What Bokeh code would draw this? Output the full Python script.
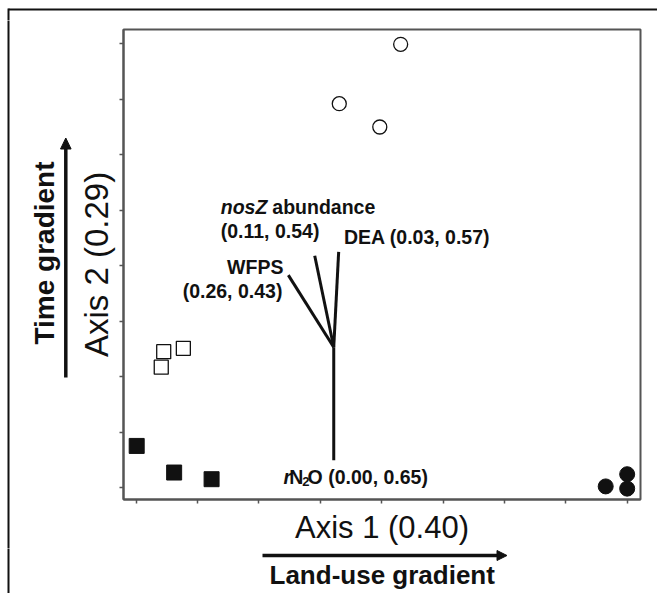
import math
from bokeh.plotting import figure
from bokeh.layouts import column, row
from bokeh.models import (Range1d, FixedTicker, Label, ColumnDataSource,
                          CustomJSTickFormatter)
from bokeh.core.properties import value
from bokeh.embed import file_html
from bokeh.resources import INLINE

# ---------------- data (ordination scores) ----------------
open_circle_x = [4.31, 3.31, 3.97]
open_circle_y = [7.99, 6.92, 6.50]

filled_circle_x = [7.65, 8.00, 8.00]
filled_circle_y = [0.02, 0.24, -0.02]

open_square_x = [0.45, 0.77, 0.41]
open_square_y = [2.45, 2.51, 2.17]

filled_square_x = [0.01, 0.62, 1.23]
filled_square_y = [0.75, 0.27, 0.15]

vector_names = ["DEA", "nosZ abundance", "WFPS", "rN2O"]
vector_origin = (3.22, 2.53)
vector_end_x = [3.30, 2.91, 2.48, 3.22]
vector_end_y = [4.25, 4.18, 3.83, 0.49]

axis1_label = "Axis 1 (0.40)"
axis2_label = "Axis 2 (0.29)"
x_gradient = "Land-use gradient"
y_gradient = "Time gradient"
tick_values = [0, 1, 2, 3, 4, 5, 6, 7, 8]

# ---------------- layout ----------------
W, H = 657, 593
FONT = "Liberation Sans"
INK = "#111111"
AXC = "#555555"

# page regions: top strip, left strip, main plot, bottom strip
TOP_H, LEFT_W, BOT_H = 20, 72, 45
MID_H = H - TOP_H - BOT_H          # 528
MAIN_W = W - LEFT_W                # 585
# main frame edges in page pixels
FL, FR, FT, FB = 123, 640, 29, 499

p = figure(width=MAIN_W, height=MID_H,
           x_range=Range1d(-0.205, 8.217), y_range=Range1d(-0.216, 8.258),
           output_backend="svg", toolbar_location=None, frame_align=False,
           min_border_left=FL - LEFT_W, min_border_right=W - FR,
           min_border_top=FT - TOP_H, min_border_bottom=TOP_H + MID_H - FB)
p.grid.visible = False
p.background_fill_color = "white"
p.border_fill_color = "white"
p.outline_line_color = AXC
p.outline_line_width = 2

for ax in (p.xaxis[0], p.yaxis[0]):
    ax.ticker = FixedTicker(ticks=tick_values)
    ax.formatter = CustomJSTickFormatter(code="return ''")
    ax.axis_line_color = AXC
    ax.axis_line_width = 2
    ax.major_tick_line_color = AXC
    ax.major_tick_line_width = 1.5
    ax.major_tick_out = 4
    ax.major_tick_in = 0
    ax.minor_tick_line_color = None
    ax.major_label_standoff = 0
    ax.axis_label_text_font = FONT
    ax.axis_label_text_font_style = "normal"
    ax.axis_label_text_color = INK

p.xaxis.axis_label = axis1_label
p.yaxis.axis_label = axis2_label
p.xaxis.axis_label_text_font_size = "31px"
p.yaxis.axis_label_text_font_size = "33px"
p.xaxis.axis_label_standoff = 6
p.yaxis.axis_label_standoff = 5

# vectors
vsrc = ColumnDataSource(dict(x0=[vector_origin[0]] * len(vector_names),
                             y0=[vector_origin[1]] * len(vector_names),
                             x1=vector_end_x, y1=vector_end_y, name=vector_names))
p.segment("x0", "y0", "x1", "y1", source=vsrc, line_width=3, line_color=INK)

# points
p.scatter(open_circle_x, open_circle_y, marker="circle", size=14,
          fill_color="white", line_color=INK, line_width=1.3)
p.scatter(filled_circle_x, filled_circle_y, marker="circle", size=15,
          fill_color=INK, line_color=INK)
p.scatter(open_square_x, open_square_y, marker="square", size=14,
          fill_color="white", line_color=INK, line_width=1.3)
p.scatter(filled_square_x, filled_square_y, marker="square", size=15,
          fill_color=INK, line_color=INK)

# vector labels (data units)
LS = "19.5px"
def lab(x, y, t, style="bold", align="left", size=LS):
    p.add_layout(Label(x=x, y=y, text=t, text_font=FONT, text_font_style=style,
                       text_font_size=size, text_align=align, text_baseline="alphabetic",
                       text_color=INK))

lab(1.379, 5.061, "nosZ", style="bold italic")
lab(2.220, 5.061, "abundance")
lab(1.379, 4.629, "(0.11, 0.54)")
lab(3.386, 4.516, "DEA (0.03, 0.57)")
lab(2.400, 3.969, "WFPS", align="right")
lab(2.383, 3.550, "(0.26, 0.43)", align="right")
lab(2.400, 0.185, "r", style="bold italic")
lab(2.495, 0.185, "N")
lab(2.707, 0.115, "2", size="13px")
lab(2.794, 0.185, "O (0.00, 0.65)")


# ---------------- decoration strips (1 data unit = 1 pixel) ----------------
def strip(w, h, ox, oy):
    s = figure(width=w, height=h, x_range=Range1d(0, w), y_range=Range1d(0, h),
               x_axis_type=None, y_axis_type=None, frame_align=False,
               output_backend="svg", toolbar_location=None,
               min_border_left=0, min_border_right=0, min_border_top=0, min_border_bottom=0)
    s.outline_line_color = None
    s.background_fill_color = "white"
    s.border_fill_color = "white"
    # page-pixel offset of this strip
    s.tags = [ox, oy]
    return s

def X(s, cx):
    return cx - s.tags[0]

def Y(s, cy):
    return s.height - (cy - s.tags[1])

def seg(s, x0, y0, x1, y1, w):
    s.segment(X(s, x0), Y(s, y0), X(s, x1), Y(s, y1), line_width=w, line_color=INK)

def tri(s, pts):
    s.patch([X(s, a) for a, b in pts], [Y(s, b) for a, b in pts],
            fill_color=INK, line_color=INK, line_width=1)

top = strip(W, TOP_H, 0, 0)
left = strip(LEFT_W, MID_H, 0, TOP_H)
bot = strip(W, BOT_H, 0, TOP_H + MID_H)

# outer frame lines
seg(top, 8, 9, W + 5, 9, 2)
seg(top, 8, 8, 8, TOP_H + 2, 2)
seg(left, 8, TOP_H - 2, 8, TOP_H + MID_H + 2, 2)
seg(bot, 8, TOP_H + MID_H - 2, 8, H + 5, 2)

# time-gradient arrow
seg(left, 65.3, 377, 65.3, 146, 3.5)
tri(left, [(65.3, 137.5), (60.0, 148.5), (70.6, 148.5)])
left.text(x=[X(left, 44.0)], y=[Y(left, 252.5)], text=[y_gradient], angle=math.pi / 2,
          text_font=value(FONT), text_font_style="bold", text_font_size="28px",
          text_align="center", text_baseline="alphabetic", text_color=INK)

# land-use-gradient arrow
seg(bot, 262, 555, 498, 555, 3.5)
tri(bot, [(506.5, 555), (496.5, 550), (496.5, 560)])
bot.text(x=[X(bot, 381.7)], y=[Y(bot, 574.5)], text=[x_gradient],
         text_font=value(FONT), text_font_style="bold", text_font_size="26px",
         text_align="center", text_baseline="alphabetic", text_color=INK)

layout = column(top, row(left, p, spacing=0), bot, spacing=0)
open("out.html", "w").write(file_html(layout, INLINE))
